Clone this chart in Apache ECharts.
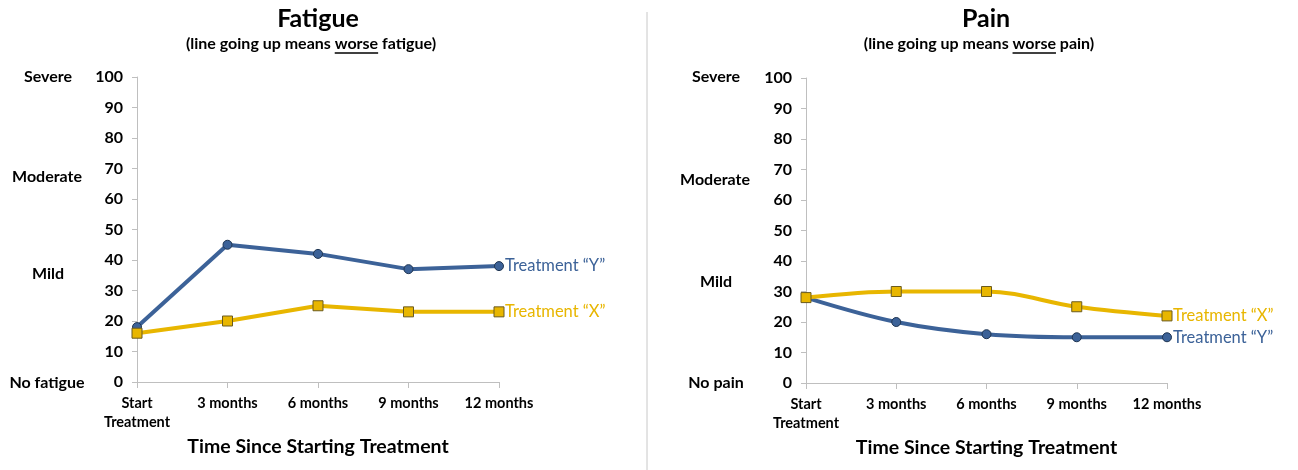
<!DOCTYPE html>
<html>
<head>
<meta charset="utf-8">
<script src="https://cdn.jsdelivr.net/npm/echarts@6/dist/echarts.min.js"></script>
<style>
  html, body { margin: 0; padding: 0; background: #fff; }
  #main { width: 1298px; height: 470px; }
</style>
</head>
<body>
<div id="main"></div>
<script>
// categories
const timePoints = ['Start\nTreatment', '3 months', '6 months', '9 months', '12 months'];

// fatigue values
const fatigueY = [18, 45, 42, 37, 38];
const fatigueX = [16, 20, 25, 23, 23];

// pain values
const painX = [28, 30, 30, 25, 22];
const painY = [28, 20, 16, 15, 15];

const blue = '#3C6298';
const yellow = '#E8B600';
const font = 'Lato, "Open Sans", sans-serif';

const chart = echarts.init(document.getElementById('main'));

function mkX(idx) {
  return {
    type: 'category',
    gridIndex: idx,
    data: timePoints,
    boundaryGap: false,
    axisLine: {lineStyle: {color: '#BFBFBF', width: 1}},
    axisTick: {show: true, alignWithLabel: true, length: 6, lineStyle: {color: '#BFBFBF'}},
    axisLabel: {
      color: '#000', fontWeight: 'bold', fontSize: 14.5, fontFamily: font,
      margin: 12, lineHeight: 19, interval: 0,
      verticalAlign: 'top'
    },
    name: 'Time Since Starting Treatment',
    nameLocation: 'middle',
    nameGap: 45,
    nameTextStyle: {color: '#000', fontWeight: 'bold', fontSize: 19.5, fontFamily: font}
  };
}

function mkY(idx) {
  return {
    type: 'value',
    gridIndex: idx,
    min: 0, max: 100, interval: 10,
    axisLine: {show: true, lineStyle: {color: '#BFBFBF'}},
    axisTick: {show: true, length: 5, lineStyle: {color: '#BFBFBF'}},
    splitLine: {show: false},
    axisLabel: {color: '#000', fontWeight: 'bold', fontSize: 16, fontFamily: font, margin: 14}
  };
}

function mkLine(name, data, idx, color, symbol, smooth) {
  return {
    name: name,
    type: 'line',
    xAxisIndex: idx,
    yAxisIndex: idx,
    data: data,
    smooth: smooth,
    symbol: symbol,
    symbolSize: symbol === 'rect' ? 10 : 9,
    lineStyle: {color: color, width: 4},
    itemStyle: {color: color, borderColor: symbol === 'rect' ? '#6B5B1E' : '#1F3552', borderWidth: 1},
    endLabel: {
      show: true,
      formatter: name,
      color: color,
      fontSize: 16.5,
      fontFamily: font,
      distance: 6
    },
    z: symbol === 'rect' ? 3 : 2
  };
}

function sideText(x, y, text) {
  return {
    type: 'text', x: x, y: y,
    style: {
      text: text, fill: '#000', font: 'bold 16px ' + font,
      textAlign: 'center', textVerticalAlign: 'middle'
    }
  };
}

function titleText(x, text) {
  return {
    type: 'text', x: x, y: 19,
    style: {
      text: text, fill: '#000', font: 'bold 25px ' + font,
      textAlign: 'center', textVerticalAlign: 'middle'
    }
  };
}

// subtitle with the word "worse" underlined
const subFont = 'bold 16px ' + font;
function subtitle(center, tail) {
  const ctx = document.createElement('canvas').getContext('2d');
  ctx.font = subFont;
  const pre = '(line going up means ';
  const full = pre + 'worse' + tail;
  const fw = ctx.measureText(full).width;
  const x0 = center - fw / 2 + ctx.measureText(pre).width;
  const w = ctx.measureText('worse').width;
  return [
    {
      type: 'text', x: center, y: 44,
      style: {text: full, fill: '#000', font: subFont, textAlign: 'center', textVerticalAlign: 'middle'}
    },
    {type: 'line', shape: {x1: x0, y1: 53, x2: x0 + w, y2: 53}, style: {stroke: '#000', lineWidth: 1.3}}
  ];
}

const option = {
  animation: false,
  backgroundColor: '#fff',
  grid: [
    {left: 137, top: 77, width: 362, height: 305},
    {left: 806, top: 78, width: 361, height: 305}
  ],
  xAxis: [mkX(0), mkX(1)],
  yAxis: [mkY(0), mkY(1)],
  series: [
    mkLine('Treatment “Y”', fatigueY, 0, blue, 'circle', false),
    mkLine('Treatment “X”', fatigueX, 0, yellow, 'rect', false),
    mkLine('Treatment “X”', painX, 1, yellow, 'rect', 0.35),
    mkLine('Treatment “Y”', painY, 1, blue, 'circle', 0.35)
  ],
  graphic: [
    {type: 'line', shape: {x1: 647, y1: 12, x2: 647, y2: 470}, style: {stroke: '#C8C8C8', lineWidth: 1}},
    titleText(318, 'Fatigue'),
    titleText(986, 'Pain'),
    sideText(48, 77, 'Severe'),
    sideText(47, 177, 'Moderate'),
    sideText(48, 274, 'Mild'),
    sideText(47, 383, 'No fatigue'),
    sideText(716, 77, 'Severe'),
    sideText(715, 180, 'Moderate'),
    sideText(716, 282, 'Mild'),
    sideText(716, 383, 'No pain')
  ].concat(subtitle(311, ' fatigue)'), subtitle(979, ' pain)'))
};

chart.setOption(option);
</script>
</body>
</html>
